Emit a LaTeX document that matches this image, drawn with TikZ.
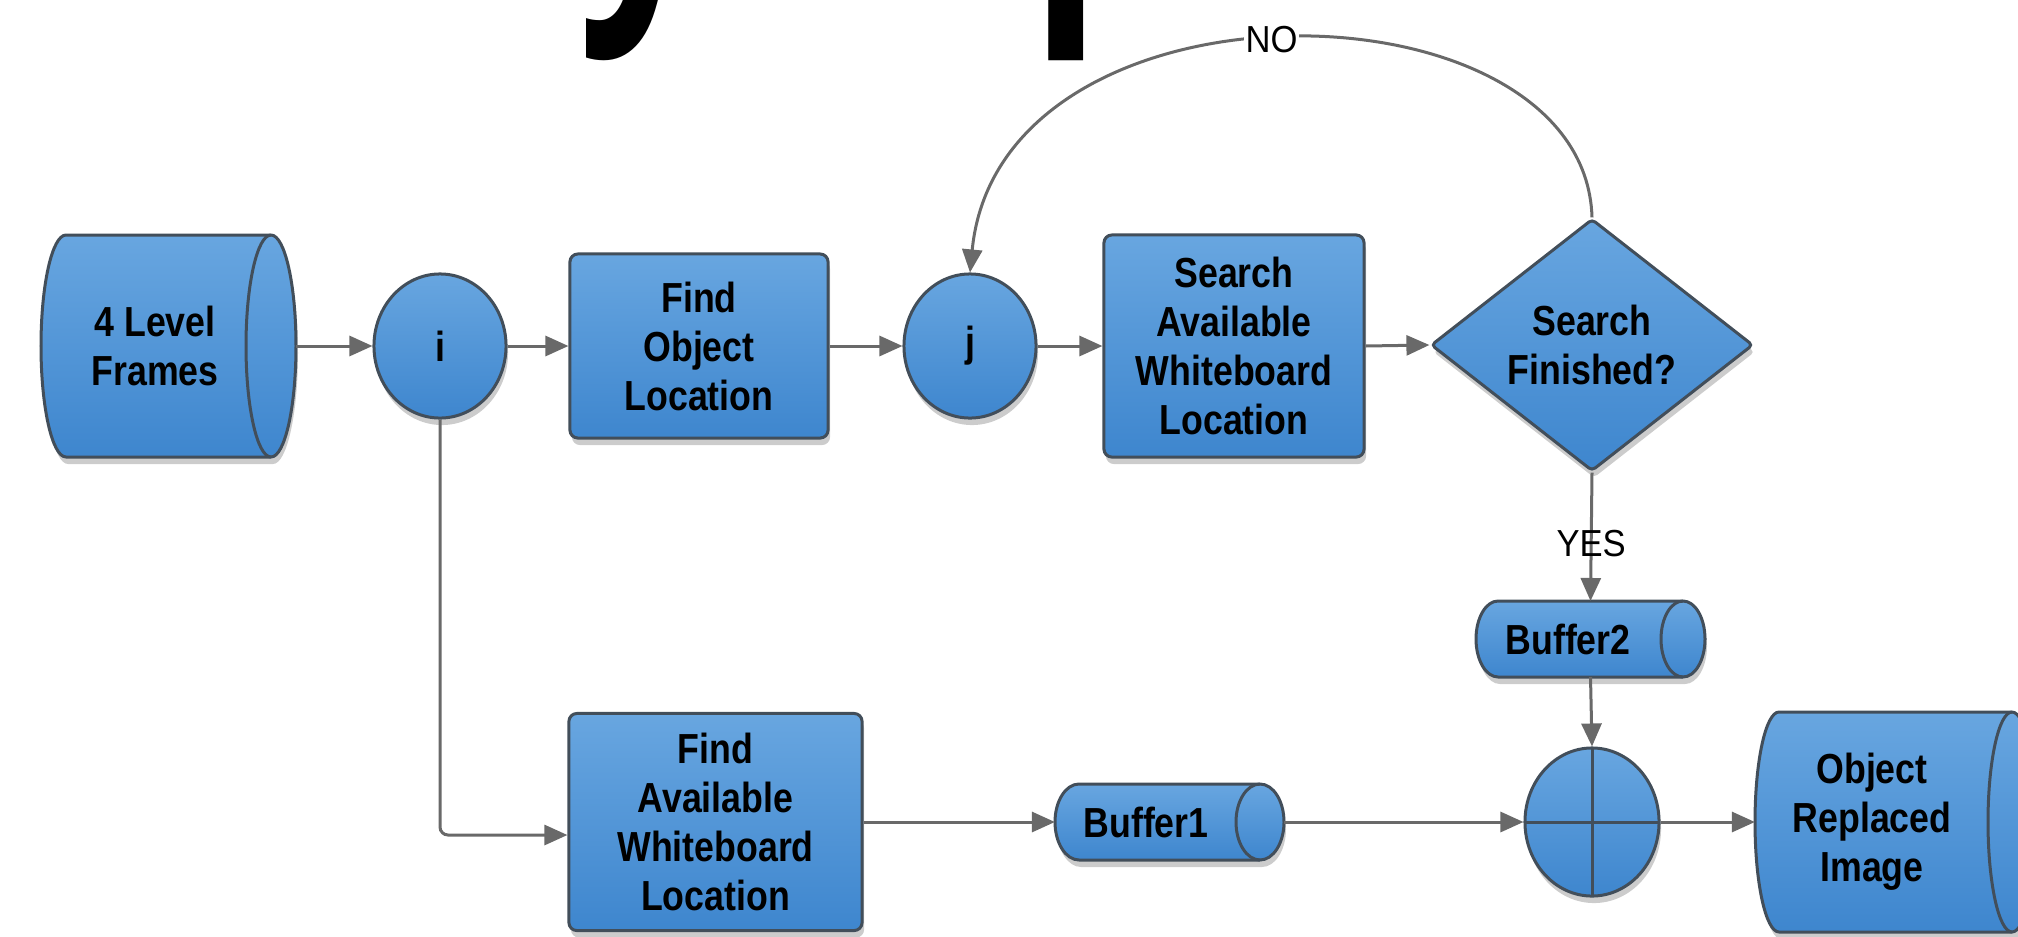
\documentclass[tikz,border=0pt]{standalone}
\usepackage{fontspec}
\usetikzlibrary{shapes.geometric,arrows.meta,shadows,calc}
\newfontfamily\nodefont[FakeStretch=0.85]{Liberation Sans}
\newfontfamily\lblfont[FakeStretch=0.92]{Liberation Sans}
\newfontfamily\titlefont[FakeStretch=0.7]{Open Sans}
\definecolor{boxtop}{RGB}{104,166,224}
\definecolor{boxbot}{RGB}{62,134,206}
\definecolor{edge}{RGB}{66,78,90}
\definecolor{wire}{RGB}{105,105,105}
\tikzset{
  shadowed/.style={drop shadow={shadow xshift=0.02cm, shadow yshift=-0.07cm, opacity=0.2, fill=black}},
  blueshape/.style={draw=edge, line width=0.03cm, top color=boxtop, bottom color=boxbot, shadowed},
  txt/.style={align=center, font=\nodefont\bfseries\fontsize{11.95}{13.94}\selectfont},
  procbox/.style={blueshape, rectangle, rounded corners=0.08cm, inner sep=0pt, txt},
  roundnode/.style={blueshape, ellipse, inner sep=0pt, txt},
  decision/.style={blueshape, diamond, inner sep=0pt, rounded corners=0.04cm, txt},
  anchorbox/.style={inner sep=0pt, outer sep=0pt, draw=none, fill=none, rectangle},
  flow/.style={draw=wire, line width=0.03cm, -{Triangle[length=0.23cm,width=0.2cm]}},
  lbl/.style={font=\lblfont\fontsize{10.7}{12}\selectfont, inner sep=0.02cm},
  titlefrag/.style={anchor=base west, inner sep=0pt, font=\titlefont\bfseries\fontsize{95}{100}\selectfont},
}
% name, cx, cy, half width, y radius, x radius
\newcommand\drumshape[6]{%
  \path[blueshape] ({#2-#4+#6},{#3-#5}) arc[start angle=270,end angle=90,x radius=#6,y radius=#5]
      -- ({#2+#4-#6},{#3+#5}) arc[start angle=90,end angle=-90,x radius=#6,y radius=#5] -- cycle;
  \draw[draw=edge, line width=0.03cm] ({#2+#4-#6},{#3-#5}) arc[start angle=270,end angle=90,x radius=#6,y radius=#5];
  \node[anchorbox, minimum width={#4*0.02cm}, minimum height={#5*0.02cm}] (#1) at (#2,#3) {};
}
\begin{document}
\begin{tikzpicture}[x=0.01cm, y=-0.01cm]
\useasboundingbox (0,0) rectangle (2018,936);
\clip (0,0) rectangle (2018,936);

% cut-off title fragments
\node[titlefrag] (tA) at (578,-20) {y};
\node[titlefrag] (tB) at (1030,-20) {p};

% shapes
\drumshape{lf}{168.5}{346}{127.5}{111}{25}
\node[txt] (lft) at (155,346) {4 Level\\Frames};
\node[roundnode, minimum width=1.32cm, minimum height=1.44cm] (i) at (440,346) {i};
\node[procbox, minimum width=2.58cm, minimum height=1.84cm] (fol) at (699,346) {Find\\Object\\Location};
\node[roundnode, minimum width=1.32cm, minimum height=1.44cm] (j) at (970,346) {j};
\node[procbox, minimum width=2.60cm, minimum height=2.22cm] (saw) at (1234,346) {Search\\Available\\Whiteboard\\Location};
\node[decision, minimum width=3.22cm, minimum height=2.52cm] (dec) at (1592,345) {Search\\Finished?};

\drumshape{bf2}{1590.5}{639}{114.5}{38}{22}
\node[txt] (bf2t) at (1568,639) {Buffer2};

\node[procbox, minimum width=2.93cm, minimum height=2.17cm] (faw) at (715.5,822) {Find\\Available\\Whiteboard\\Location};
\drumshape{bf1}{1169.5}{822}{114.5}{38}{24}
\node[txt] (bf1t) at (1146,822) {Buffer1};

\node[roundnode, minimum width=1.34cm, minimum height=1.48cm,
      path picture={\draw[edge, line width=0.03cm]
        (path picture bounding box.north) -- (path picture bounding box.south)
        (path picture bounding box.west) -- (path picture bounding box.east);}] (sum) at (1592,822) {};

\drumshape{ori}{1895.5}{822}{140.5}{110}{24}
\node[txt] (orit) at (1872,822) {Object\\Replaced\\Image};

% connectors
\draw[flow] (lf.east) -- (i.west);
\draw[flow] (i.east) -- (fol.west);
\draw[flow] (fol.east) -- (j.west);
\draw[flow] (j.east) -- (saw.west);
\draw[flow] (saw.east) -- (dec.west);
\draw[flow] (dec.north) .. controls (1585,-25) and (1000,-35) .. node[pos=0.52, lbl, fill=white] (no) {NO} (j.north);
\draw[flow] (dec.south) -- node[lbl, pos=0.55] (yes) {YES} (bf2.north);
\draw[flow] (bf2.south) -- (sum.north);
\draw[flow, rounded corners=0.08cm] (i.south) |- ([yshift=-0.13cm]faw.west);
\draw[flow] (faw.east) -- (bf1.west);
\draw[flow] (bf1.east) -- (sum.west);
\draw[flow] (sum.east) -- (ori.west);
\end{tikzpicture}
\end{document}
